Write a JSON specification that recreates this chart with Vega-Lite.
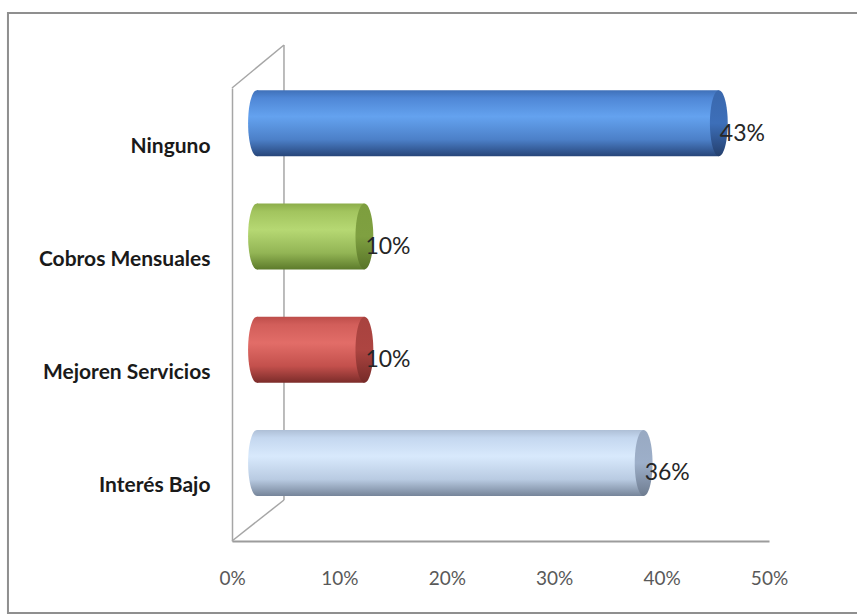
{
  "$schema": "https://vega.github.io/schema/vega-lite/v6.json",
  "autosize": {"type": "none"},
  "width": 537,
  "height": 453,
  "padding": {"left": 232, "top": 88, "right": 88, "bottom": 74},
  "background": "white",
  "view": {"stroke": null},
  "config": {
    "axisX": {
      "labelFont": "Lato",
      "labelFontSize": 19,
      "labelColor": "#595959",
      "labelBaseline": "middle",
      "labelPadding": 37,
      "ticks": false,
      "tickSize": 0,
      "grid": false,
      "domainColor": "#9c9c9c",
      "domainWidth": 2,
      "labelFlush": false
    },
    "axisY": {
      "labelFont": "Lato",
      "labelFontSize": 21,
      "labelFontWeight": "bold",
      "labelColor": "#1a1a1a",
      "labelPadding": 22,
      "labelOffset": 2,
      "labelLimit": 300,
      "ticks": false,
      "tickSize": 0,
      "grid": false,
      "domainColor": "#a6a6a6",
      "domainWidth": 1.5
    }
  },
  "resolve": {"scale": {"y": "independent"}, "axis": {"y": "independent"}},
  "layer": [
    {
      "data": {"values": [{}]},
      "layer": [
        {
          "mark": {"type": "rect", "fill": null, "stroke": "#8f8f8f", "strokeWidth": 2},
          "encoding": {
            "x": {"datum": -0.2086, "type": "quantitative", "scale": {"domain": [0, 0.5], "nice": false, "zero": true}, "title": null},
            "x2": {"datum": 0.65},
            "y": {"datum": 116.56, "type": "quantitative", "scale": {"domain": [0, 100], "nice": false, "zero": false}, "axis": null},
            "y2": {"datum": -15.89}
          }
        },
        {
          "mark": {"type": "rule", "color": "#a6a6a6", "strokeWidth": 1.5},
          "encoding": {
            "x": {"datum": 0.0484, "type": "quantitative", "scale": {"domain": [0, 0.5], "nice": false, "zero": true}, "title": null},
            "y": {"datum": 109.49, "type": "quantitative", "scale": {"domain": [0, 100], "nice": false, "zero": false}, "axis": null},
            "y2": {"datum": 9.05}
          }
        },
        {
          "mark": {"type": "rule", "color": "#a6a6a6", "strokeWidth": 1.5},
          "encoding": {
            "x": {"datum": 0, "type": "quantitative", "scale": {"domain": [0, 0.5], "nice": false, "zero": true}, "title": null},
            "x2": {"datum": 0.0484},
            "y": {"datum": 100, "type": "quantitative", "scale": {"domain": [0, 100], "nice": false, "zero": false}, "axis": null},
            "y2": {"datum": 109.49}
          }
        },
        {
          "mark": {"type": "rule", "color": "#a6a6a6", "strokeWidth": 1.5},
          "encoding": {
            "x": {"datum": 0, "type": "quantitative", "scale": {"domain": [0, 0.5], "nice": false, "zero": true}, "title": null},
            "x2": {"datum": 0.0484},
            "y": {"datum": 0, "type": "quantitative", "scale": {"domain": [0, 100], "nice": false, "zero": false}, "axis": null},
            "y2": {"datum": 9.05}
          }
        }
      ]
    },
    {
      "data": {
        "values": [
          {"cat": "Ninguno", "value": 0.43},
          {"cat": "Cobros Mensuales", "value": 0.10},
          {"cat": "Mejoren Servicios", "value": 0.10},
          {"cat": "Interés Bajo", "value": 0.36}
        ]
      },
      "encoding": {
        "y": {
          "field": "cat",
          "type": "nominal",
          "sort": ["Ninguno", "Cobros Mensuales", "Mejoren Servicios", "Interés Bajo"],
          "scale": {"paddingInner": 0, "paddingOuter": 0},
          "title": null
        }
      },
      "layer": [
        {
          "mark": {
            "type": "point",
            "filled": true,
            "opacity": 1,
            "strokeWidth": 0,
            "size": 4356,
            "xOffset": 25,
            "yOffset": -21.5,
            "shape": "M0,-1C0.149,-1 0.27,-0.552 0.27,0C0.27,0.552 0.149,1 0,1C-0.149,1 -0.27,0.552 -0.27,0C-0.27,-0.552 -0.149,-1 0,-1Z"
          },
          "encoding": {
            "x": {"datum": 0, "type": "quantitative", "scale": {"domain": [0, 0.5], "nice": false, "zero": true}, "title": null},
            "fill": {
              "condition": [
                {"test": "datum.cat === 'Ninguno'", "value": {"gradient": "linear", "x1": 0, "y1": 0, "x2": 0, "y2": 1, "stops": [{"offset": 0, "color": "#3f70b8"}, {"offset": 0.12, "color": "#4f87d6"}, {"offset": 0.4, "color": "#64a2ef"}, {"offset": 0.75, "color": "#4c80c8"}, {"offset": 1, "color": "#27467a"}]}},
                {"test": "datum.cat === 'Cobros Mensuales'", "value": {"gradient": "linear", "x1": 0, "y1": 0, "x2": 0, "y2": 1, "stops": [{"offset": 0, "color": "#8cad4a"}, {"offset": 0.12, "color": "#a2c45e"}, {"offset": 0.4, "color": "#b6d873"}, {"offset": 0.75, "color": "#93b555"}, {"offset": 1, "color": "#5d7b2b"}]}},
                {"test": "datum.cat === 'Mejoren Servicios'", "value": {"gradient": "linear", "x1": 0, "y1": 0, "x2": 0, "y2": 1, "stops": [{"offset": 0, "color": "#bd4d4a"}, {"offset": 0.12, "color": "#d25e5a"}, {"offset": 0.4, "color": "#e26d68"}, {"offset": 0.75, "color": "#c3504c"}, {"offset": 1, "color": "#7c2c2a"}]}}
              ],
              "value": {"gradient": "linear", "x1": 0, "y1": 0, "x2": 0, "y2": 1, "stops": [{"offset": 0, "color": "#aebfd6"}, {"offset": 0.12, "color": "#c4d7ef"}, {"offset": 0.4, "color": "#d8e9fc"}, {"offset": 0.75, "color": "#b9cbe2"}, {"offset": 1, "color": "#76859a"}]}
            }
          }
        },
        {
          "mark": {"type": "bar", "size": 66, "xOffset": 25, "yOffset": -21.5},
          "encoding": {
            "x": {"field": "value", "type": "quantitative", "scale": {"domain": [0, 0.5], "nice": false, "zero": true}, "axis": {"values": [0, 0.1, 0.2, 0.3, 0.4, 0.5], "format": ".0%"}, "title": null},
            "fill": {
              "condition": [
                {"test": "datum.cat === 'Ninguno'", "value": {"gradient": "linear", "x1": 0, "y1": 0, "x2": 0, "y2": 1, "stops": [{"offset": 0, "color": "#3f70b8"}, {"offset": 0.12, "color": "#4f87d6"}, {"offset": 0.4, "color": "#64a2ef"}, {"offset": 0.75, "color": "#4c80c8"}, {"offset": 1, "color": "#27467a"}]}},
                {"test": "datum.cat === 'Cobros Mensuales'", "value": {"gradient": "linear", "x1": 0, "y1": 0, "x2": 0, "y2": 1, "stops": [{"offset": 0, "color": "#8cad4a"}, {"offset": 0.12, "color": "#a2c45e"}, {"offset": 0.4, "color": "#b6d873"}, {"offset": 0.75, "color": "#93b555"}, {"offset": 1, "color": "#5d7b2b"}]}},
                {"test": "datum.cat === 'Mejoren Servicios'", "value": {"gradient": "linear", "x1": 0, "y1": 0, "x2": 0, "y2": 1, "stops": [{"offset": 0, "color": "#bd4d4a"}, {"offset": 0.12, "color": "#d25e5a"}, {"offset": 0.4, "color": "#e26d68"}, {"offset": 0.75, "color": "#c3504c"}, {"offset": 1, "color": "#7c2c2a"}]}}
              ],
              "value": {"gradient": "linear", "x1": 0, "y1": 0, "x2": 0, "y2": 1, "stops": [{"offset": 0, "color": "#aebfd6"}, {"offset": 0.12, "color": "#c4d7ef"}, {"offset": 0.4, "color": "#d8e9fc"}, {"offset": 0.75, "color": "#b9cbe2"}, {"offset": 1, "color": "#76859a"}]}
            }
          }
        },
        {
          "mark": {
            "type": "point",
            "filled": true,
            "opacity": 1,
            "strokeWidth": 0,
            "size": 4356,
            "xOffset": 25,
            "yOffset": -21.5,
            "shape": "M0,-1C0.149,-1 0.27,-0.552 0.27,0C0.27,0.552 0.149,1 0,1C-0.149,1 -0.27,0.552 -0.27,0C-0.27,-0.552 -0.149,-1 0,-1Z"
          },
          "encoding": {
            "x": {"field": "value", "type": "quantitative", "scale": {"domain": [0, 0.5], "nice": false, "zero": true}, "title": null},
            "fill": {
              "condition": [
                {"test": "datum.cat === 'Ninguno'", "value": {"gradient": "linear", "x1": 0, "y1": 0, "x2": 0, "y2": 1, "stops": [{"offset": 0, "color": "#3a68ad"}, {"offset": 0.5, "color": "#3d6fb9"}, {"offset": 1, "color": "#243f6d"}]}},
                {"test": "datum.cat === 'Cobros Mensuales'", "value": {"gradient": "linear", "x1": 0, "y1": 0, "x2": 0, "y2": 1, "stops": [{"offset": 0, "color": "#7d9e3e"}, {"offset": 0.5, "color": "#7fa041"}, {"offset": 1, "color": "#587428"}]}},
                {"test": "datum.cat === 'Mejoren Servicios'", "value": {"gradient": "linear", "x1": 0, "y1": 0, "x2": 0, "y2": 1, "stops": [{"offset": 0, "color": "#a8423f"}, {"offset": 0.5, "color": "#ad4541"}, {"offset": 1, "color": "#762a28"}]}}
              ],
              "value": {"gradient": "linear", "x1": 0, "y1": 0, "x2": 0, "y2": 1, "stops": [{"offset": 0, "color": "#98a9c2"}, {"offset": 0.5, "color": "#9dafc9"}, {"offset": 1, "color": "#6e7c90"}]}
            }
          }
        },
        {
          "mark": {
            "type": "text",
            "align": "left",
            "baseline": "middle",
            "xOffset": 26,
            "yOffset": -11,
            "font": "Lato",
            "fontSize": 23,
            "color": "#262626"
          },
          "encoding": {
            "x": {"field": "value", "type": "quantitative", "scale": {"domain": [0, 0.5], "nice": false, "zero": true}, "title": null},
            "text": {"field": "value", "type": "quantitative", "format": ".0%"}
          }
        }
      ]
    }
  ]
}
